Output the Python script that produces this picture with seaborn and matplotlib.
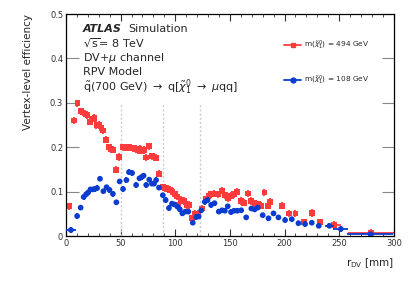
import numpy as np
import pandas as pd
import matplotlib
matplotlib.use('Agg')
import matplotlib.pyplot as plt
import seaborn as sns
from matplotlib.ticker import MultipleLocator, FuncFormatter
from matplotlib.lines import Line2D

# fine bins, m = 494 GeV
red_x = [7.3, 10.5, 13.5, 15.7, 17.8, 19.6, 22.0, 24.5, 26.0, 27.9, 30.0, 32.4, 34.0,
         36.8, 39.3, 41.4, 43.2, 45.8, 48.8, 52.3, 55.3, 58.1, 61.0, 63.8, 65.5, 67.3,
         69.5, 71.3, 73.2, 75.9, 78.9, 82.3, 84.9, 88.9, 91.0, 93.3, 95.5, 97.5, 99.5,
         101.5, 103.0, 105.5, 107.8, 110.8, 112.8, 115.5, 118.0, 120.8, 124.5, 127.8,
         130.5, 132.8, 135.5, 138.9, 142.8, 145.6, 148.0, 151.0, 153.5, 156.8, 160.4,
         162.7, 166.5, 169.6, 172.5, 175.5, 178.5, 181.6, 184.7, 187.0, 197.6, 203.9,
         209.9, 217.5, 224.9, 232.6]
red_y = [0.260, 0.299, 0.281, 0.278, 0.275, 0.272, 0.257, 0.264, 0.266, 0.250, 0.250, 0.244, 0.238,
         0.217, 0.200, 0.196, 0.194, 0.149, 0.178, 0.200, 0.199, 0.200, 0.198, 0.196, 0.193, 0.196,
         0.192, 0.194, 0.177, 0.202, 0.180, 0.176, 0.140, 0.110, 0.108, 0.106, 0.104, 0.100, 0.094,
         0.089, 0.070, 0.082, 0.079, 0.070, 0.070, 0.040, 0.050, 0.050, 0.062, 0.083,
         0.090, 0.094, 0.095, 0.094, 0.102, 0.092, 0.085, 0.091, 0.094, 0.100, 0.079,
         0.075, 0.096, 0.079, 0.074, 0.072, 0.068, 0.098, 0.068, 0.077, 0.068, 0.051,
         0.051, 0.031, 0.052, 0.031]
# wide bins, m = 494 GeV
red_wx = [2.5, 245.5, 279.0]
red_wy = [0.067, 0.025, 0.007]
red_wxerr = [2.5, 6.0, 21.0]

# fine bins, m = 108 GeV
blue_x = [10.2, 13.4, 16.2, 18.4, 20.2, 22.4, 24.5, 26.5, 28.5, 31.1, 34.2, 37.1, 39.8,
          42.9, 46.1, 49.1, 52.2, 55.3, 57.6, 60.5, 64.2, 67.2, 69.3, 71.0, 73.4, 76.2,
          78.6, 80.6, 82.5, 85.1, 88.6, 91.2, 94.2, 97.0, 99.3, 102.1, 104.2, 106.5,
          109.2, 112.0, 116.0, 119.3, 121.4, 123.8, 127.0, 129.5, 132.8, 135.9, 139.8,
          142.8, 145.4, 148.0, 151.0, 153.8, 156.8, 160.3, 164.9, 169.6, 172.6, 175.5,
          180.0, 185.3, 189.9, 194.4, 200.5, 206.6, 212.7, 218.8, 224.9, 231.3]
blue_y = [0.045, 0.064, 0.088, 0.094, 0.098, 0.105, 0.105, 0.106, 0.108, 0.129, 0.101, 0.110, 0.104,
          0.095, 0.076, 0.123, 0.106, 0.126, 0.144, 0.142, 0.115, 0.130, 0.133, 0.136, 0.115, 0.127,
          0.118, 0.118, 0.126, 0.109, 0.092, 0.081, 0.063, 0.073, 0.071, 0.066, 0.060, 0.051,
          0.055, 0.055, 0.030, 0.043, 0.044, 0.058, 0.077, 0.081, 0.070, 0.074, 0.055,
          0.058, 0.057, 0.067, 0.054, 0.057, 0.057, 0.058, 0.042, 0.062, 0.060, 0.064,
          0.047, 0.040, 0.051, 0.042, 0.036, 0.038, 0.029, 0.027, 0.030, 0.023]
# wide bins, m = 108 GeV
blue_wx = [4.5, 241.0, 251.5, 278.6]
blue_wy = [0.0135, 0.023, 0.016, 0.004]
blue_wxerr = [4.5, 4.0, 7.0, 21.0]

pixel_layers = [50.5, 88.5, 122.5]
legend_labels = [r'm($\tilde{\chi}_1^0$) = 494 GeV', r'm($\tilde{\chi}_1^0$) = 108 GeV']

red_c = '#ff3b3b'
blue_c = '#0a3cd2'

sns.set_style('ticks')
plt.rcParams['font.family'] = ['DejaVu Sans']
plt.rcParams['axes.grid'] = False

fig = plt.figure(figsize=(4.15, 2.81), dpi=100)
ax = fig.add_axes([0.159, 0.160, 0.790, 0.790])

ax.vlines(pixel_layers, 0, 0.3, colors='#cccccc', linestyles=(0, (1.5, 1.5)), lw=1.0, zorder=1)

red = pd.DataFrame({'x': red_x + red_wx, 'y': red_y + red_wy,
                    'xerr': [1.2] * len(red_x) + red_wxerr})
blue = pd.DataFrame({'x': blue_x + blue_wx, 'y': blue_y + blue_wy,
                     'xerr': [1.2] * len(blue_x) + blue_wxerr})

ax.errorbar(red['x'].values, red['y'].values, xerr=red['xerr'].values, yerr=0.008,
            fmt='none', ecolor=red_c, elinewidth=1.3, capsize=0, zorder=2)
ax.errorbar(blue['x'].values, blue['y'].values, xerr=blue['xerr'].values, yerr=0.006,
            fmt='none', ecolor=blue_c, elinewidth=1.3, capsize=0, zorder=3)
sns.scatterplot(data=red, x='x', y='y', marker='s', s=17, color=red_c, edgecolor='none', ax=ax, zorder=2)
sns.scatterplot(data=blue, x='x', y='y', marker='o', s=17, color=blue_c, edgecolor='none', ax=ax, zorder=3)

ax.set_xlim(0, 300)
ax.set_ylim(0, 0.5)
ax.xaxis.set_major_locator(MultipleLocator(50))
ax.xaxis.set_minor_locator(MultipleLocator(10))
ax.yaxis.set_major_locator(MultipleLocator(0.1))
ax.yaxis.set_major_formatter(FuncFormatter(lambda v, _: f'{v:g}'))
ax.tick_params(which='both', direction='in', top=True, right=True, labelsize=6, colors='#333333', pad=2)
ax.tick_params(axis='x', which='major', length=5, width=0.8)
ax.tick_params(axis='x', which='minor', length=2.5, width=0.6)
ax.tick_params(axis='y', which='major', length=9, width=0.8, color='#888888', labelcolor='#333333')
ax.grid(False)
for s in ax.spines.values():
    s.set_linewidth(0.9)
    s.set_color('black')

ax.set_xlabel(r'r$_{\mathrm{DV}}$ [mm]', fontsize=7.5, loc='right', labelpad=6)
ax.set_ylabel('Vertex-level efficiency', fontsize=7.5, loc='top', labelpad=12)

kw = dict(transform=ax.transAxes, fontsize=8, va='center', ha='left')
ax.text(0.052, 0.932, 'ATLAS', fontweight='bold', fontstyle='italic', **kw)
ax.text(0.19, 0.932, 'Simulation', **kw)
ax.text(0.052, 0.867, r'$\sqrt{\mathrm{s}}$= 8 TeV', **kw)
ax.text(0.052, 0.802, r'DV+$\mu$ channel', **kw)
ax.text(0.052, 0.737, 'RPV Model', **kw)
ax.text(0.052, 0.672, r'$\tilde{\mathrm{q}}$(700 GeV) $\rightarrow$ q[$\tilde{\chi}_1^0$ $\rightarrow$ $\mu$qq]', **kw)

h_red = Line2D([], [], color=red_c, marker='s', ms=3.5, lw=1.3)
h_blue = Line2D([], [], color=blue_c, marker='o', ms=3.5, lw=1.3)
ax.legend([h_red, h_blue], legend_labels,
          loc='upper left', bbox_to_anchor=(0.645, 0.92), frameon=False, fontsize=5.3,
          labelspacing=3.0, handlelength=2.3, handletextpad=0.4)

fig.canvas.draw()
for t in ax.yaxis.get_major_ticks() + ax.xaxis.get_major_ticks():
    t.gridline.set_visible(False)

fig.savefig('out.png', dpi=100)

# self-check for stray long horizontal lines
found = []
for c in ax.get_children():
    segs = []
    if hasattr(c, 'get_segments'):
        segs = c.get_segments()
    elif isinstance(c, Line2D):
        segs = [c.get_xydata()]
    for sg in segs:
        sg = np.asarray(sg)
        if len(sg) > 1 and np.ptp(sg[:, 0]) > 100:
            found.append((type(c).__name__, sg[:2].tolist()))
if found:
    raise RuntimeError(str(found[:5]))
